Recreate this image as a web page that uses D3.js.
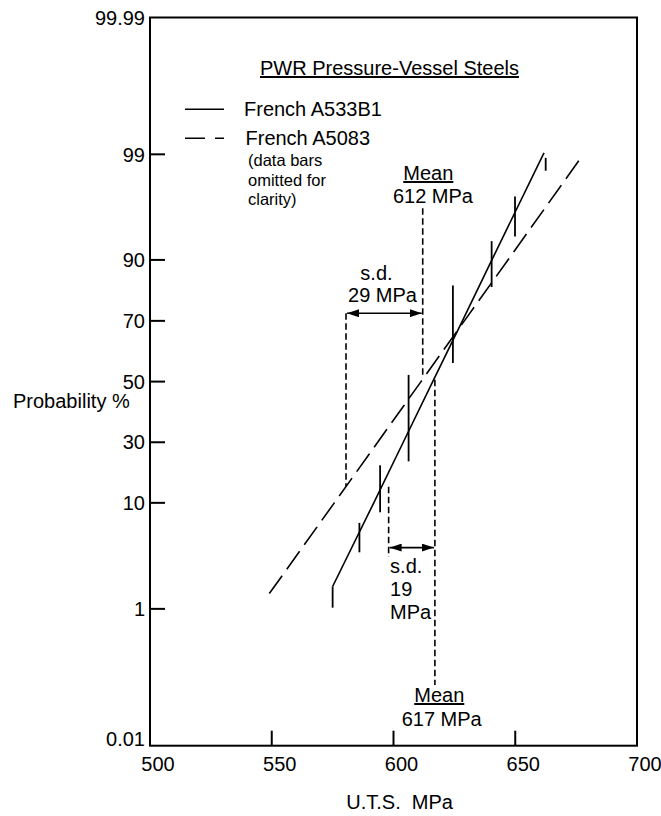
<!DOCTYPE html>
<html>
<head>
<meta charset="utf-8">
<script src="https://cdnjs.cloudflare.com/ajax/libs/d3/7.8.5/d3.min.js"></script>
<style>
  html, body { margin: 0; padding: 0; background: #fff; }
  svg { display: block; font-family: "Liberation Sans", Arial, Helvetica, sans-serif; }
</style>
</head>
<body>
<div id="chart"></div>
<script>
// probability paper ticks (%), and U.T.S. ticks (MPa)
const probTicks  = [0.01, 1, 10, 30, 50, 70, 90, 99, 99.99];
const probLabels = ["0.01", "1", "10", "30", "50", "70", "90", "99", "99.99"];
const utsTicks   = [500, 550, 600, 650, 700];

// fitted lines: [MPa, probability %]
const a533b1Line = [[575.0, 2.9], [591.9, 10], [604.0, 30], [616.1, 50], [628.3, 70], [640.4, 90], [661.5, 99], [661.9, 99.01]];
const a5083Line  = [[549.0, 2.3], [575.7, 10], [593.5, 30], [611.3, 50], [629.1, 70], [647.0, 90], [676.6, 98.6]];

// A533B1 data bars: [MPa, low %, high %]
const a533b1Bars = [
  [575.0, 1.1, 2.9], [586.0, 5.8, 8.3], [594.5, 9.2, 22.4], [606.2, 23.7, 52.2],
  [624.4, 56.1, 81.6], [640.3, 81.1, 91.6], [649.9, 92.0, 95.4], [662.5, 97.6, 98.7]
];

// mean / s.d. construction lines: [MPa, from %, to %]
const guideLines = [[612, 94.4, 51.2], [580.5, 72.5, 15.4], [617, 50.6, 0.45], [598, 15.3, 5.4]];
// s.d. arrows: [from MPa, to MPa, at %]
const sdArrows = [[580.5, 612, 72.5], [598, 617, 6.2]];

const W = 661, H = 816;
const margin = {top: 17.5, left: 150, right: 24, bottom: 70.3};
const width = W - margin.left - margin.right;
const height = H - margin.top - margin.bottom;

// the paper is not a true probit grid, so tick spacing is taken from it (fraction of height from top)
const tickFrac = [1.0, 0.8121, 0.6665, 0.5833, 0.5, 0.4166, 0.3329, 0.1879, 0.0];

const x = d3.scaleLinear().domain([500, 700]).range([0, width]);
const y = d3.scaleLinear().domain(probTicks).range(tickFrac.map(f => f * height));

const svg = d3.select("#chart").append("svg")
    .attr("width", W).attr("height", H);

svg.append("defs").append("marker")
    .attr("id", "arrow")
    .attr("viewBox", "0 0 12 8")
    .attr("refX", 12).attr("refY", 4)
    .attr("markerWidth", 12).attr("markerHeight", 8)
    .attr("markerUnits", "userSpaceOnUse")
    .attr("orient", "auto-start-reverse")
  .append("path").attr("d", "M0,0L12,4L0,8Z").attr("fill", "#000");

const g = svg.append("g").attr("transform", `translate(${margin.left},${margin.top})`);

// frame
g.append("rect").attr("width", width).attr("height", height)
    .attr("fill", "none").attr("stroke", "#000").attr("stroke-width", 2);

// y ticks (inward) and labels
g.selectAll(".ytick").data(probTicks.slice(1, -1)).enter().append("line")
    .attr("x1", 0).attr("x2", 15)
    .attr("y1", d => y(d)).attr("y2", d => y(d))
    .attr("stroke", "#000").attr("stroke-width", 2);

g.selectAll(".ylab").data(probTicks).enter().append("text")
    .attr("x", -5)
    .attr("y", (d, i) => i === 0 ? y(d) - 7 : y(d))
    .attr("dy", "0.36em")
    .attr("text-anchor", "end")
    .attr("font-size", 20)
    .text((d, i) => probLabels[i]);

g.append("text").attr("x", -137).attr("y", y(50) + 26)
    .attr("font-size", 20).text("Probability %");

// x ticks (inward) and labels
g.selectAll(".xtick").data(utsTicks.slice(1, -1)).enter().append("line")
    .attr("x1", d => x(d)).attr("x2", d => x(d))
    .attr("y1", height).attr("y2", height - 15)
    .attr("stroke", "#000").attr("stroke-width", 2);

g.selectAll(".xlab").data(utsTicks).enter().append("text")
    .attr("x", d => x(d) + 8).attr("y", height + 25)
    .attr("text-anchor", "middle").attr("font-size", 20)
    .text(d => d);

g.append("text").attr("x", x(602.5)).attr("y", height + 63)
    .attr("text-anchor", "middle").attr("font-size", 20)
    .style("white-space", "pre").text("U.T.S.  MPa");

// construction lines
g.selectAll(".guide").data(guideLines).enter().append("line")
    .attr("x1", d => x(d[0])).attr("x2", d => x(d[0]))
    .attr("y1", d => y(d[1])).attr("y2", d => y(d[2]))
    .attr("stroke", "#000").attr("stroke-width", 1.6)
    .attr("stroke-dasharray", "6.5,3.5");

g.selectAll(".sd").data(sdArrows).enter().append("line")
    .attr("x1", d => x(d[0]) + 1).attr("x2", d => x(d[1]) - 1)
    .attr("y1", d => y(d[2])).attr("y2", d => y(d[2]))
    .attr("stroke", "#000").attr("stroke-width", 1.6)
    .attr("marker-start", "url(#arrow)").attr("marker-end", "url(#arrow)");

// fitted lines
const line = d3.line().x(d => x(d[0])).y(d => y(d[1]));

g.append("path").datum(a533b1Line).attr("d", line)
    .attr("fill", "none").attr("stroke", "#000").attr("stroke-width", 1.6);

g.append("path").datum(a5083Line).attr("d", line)
    .attr("fill", "none").attr("stroke", "#000").attr("stroke-width", 1.6)
    .attr("stroke-dasharray", "22,8");

// data bars
g.selectAll(".bar").data(a533b1Bars).enter().append("line")
    .attr("x1", d => x(d[0])).attr("x2", d => x(d[0]))
    .attr("y1", d => y(d[1])).attr("y2", d => y(d[2]))
    .attr("stroke", "#000").attr("stroke-width", 1.8);

// title and legend
g.append("text").attr("x", 239.5).attr("y", 57.5)
    .attr("text-anchor", "middle").attr("font-size", 20)
    .attr("text-decoration", "underline")
    .text("PWR Pressure-Vessel Steels");

g.append("line").attr("x1", 35).attr("x2", 74).attr("y1", 91.8).attr("y2", 91.8)
    .attr("stroke", "#000").attr("stroke-width", 1.6);
g.append("line").attr("x1", 35).attr("x2", 74).attr("y1", 120.8).attr("y2", 120.8)
    .attr("stroke", "#000").attr("stroke-width", 1.6).attr("stroke-dasharray", "20,10,9");

g.append("text").attr("x", 94).attr("y", 98.5).attr("font-size", 20).text("French A533B1");
g.append("text").attr("x", 95.5).attr("y", 127.5).attr("font-size", 20).text("French A5083");

["(data bars", "omitted for", "clarity)"].forEach((t, i) => {
  g.append("text").attr("x", 98).attr("y", 148.5 + i * 19.7)
      .attr("font-size", 16.5).text(t);
});

// annotations
g.append("text").attr("x", x(614.3)).attr("y", 162.5).attr("text-anchor", "middle")
    .attr("font-size", 20).attr("text-decoration", "underline").text("Mean");
g.append("text").attr("x", x(616.2)).attr("y", 185.8).attr("text-anchor", "middle")
    .attr("font-size", 20).text("612 MPa");

g.append("text").attr("x", x(593)).attr("y", 262.5).attr("text-anchor", "middle")
    .attr("font-size", 20).text("s.d.");
g.append("text").attr("x", x(595.5)).attr("y", 284.2).attr("text-anchor", "middle")
    .attr("font-size", 20).text("29 MPa");

["s.d.", "19", "MPa"].forEach((t, i) => {
  g.append("text").attr("x", x(598.6)).attr("y", 555.2 + i * 23.3)
      .attr("font-size", 20).text(t);
});

g.append("text").attr("x", x(618.8)).attr("y", 684.5).attr("text-anchor", "middle")
    .attr("font-size", 20).attr("text-decoration", "underline").text("Mean");
g.append("text").attr("x", x(619.8)).attr("y", 708.5).attr("text-anchor", "middle")
    .attr("font-size", 20).text("617 MPa");
</script>
</body>
</html>
